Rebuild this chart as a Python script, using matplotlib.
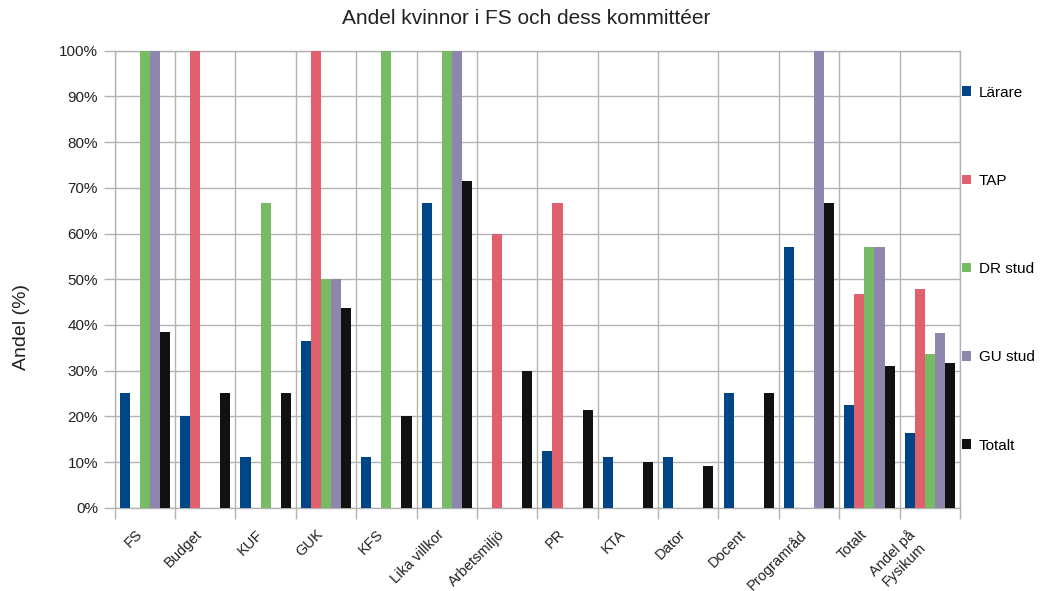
import matplotlib
matplotlib.use("Agg")
import matplotlib.pyplot as plt
from matplotlib.patches import Patch
import numpy as np

plt.rcParams['font.family'] = ['Liberation Sans', 'DejaVu Sans']

categories = ['FS', 'Budget', 'KUF', 'GUK', 'KFS', 'Lika villkor', 'Arbetsmiljö',
              'PR', 'KTA', 'Dator', 'Docent', 'Programråd', 'Totalt', 'Andel på\nFysikum']
series_names = ['Lärare', 'TAP', 'DR stud', 'GU stud', 'Totalt']

larare = [25, 20, 11.1, 36.4, 11.1, 66.7, 0, 12.5, 11.1, 11.1, 25, 57.1, 22.4, 16.3]
tap = [0, 100, 0, 100, 0, 0, 60, 66.7, 0, 0, 0, 0, 46.8, 47.8]
dr_stud = [100, 0, 66.7, 50, 100, 100, 0, 0, 0, 0, 0, 0, 57.1, 33.7]
gu_stud = [100, 0, 0, 50, 0, 100, 0, 0, 0, 0, 0, 100, 57.1, 38.2]
totalt = [38.5, 25, 25, 43.8, 20, 71.4, 30, 21.4, 10, 9.1, 25, 66.7, 31.1, 31.7]

colors = ['#004586', '#e0606e', '#77bc65', '#8e86ae', '#111111']
grid_col = '#b3b3b3'

fig = plt.figure(figsize=(10.44, 5.91), dpi=100)
ax = fig.add_axes([114.7 / 1044, 83.3 / 591, 845.3 / 1044, 457 / 591])

x = np.arange(len(categories))
w = 1 / 6
all_series = [larare, tap, dr_stud, gu_stud, totalt]
for i, vals in enumerate(all_series):
    ax.bar(x + (i - 2) * w, vals, width=w, color=colors[i], zorder=3, linewidth=0)

ax.set_xlim(-0.5, len(categories) - 0.5)
ax.set_ylim(0, 100)

ax.set_yticks(np.arange(0, 101, 10))
ax.set_yticklabels([f'{v}%' for v in range(0, 101, 10)], fontsize=11, color='#222222')
ax.set_xticks(np.arange(len(categories) + 1) - 0.5)
ax.set_xticklabels([])
ax.set_xticks(x, minor=True)
ax.set_xticklabels(categories, minor=True, rotation=45, ha='right', fontsize=10.5,
                   color='#222222', multialignment='center')
ax.tick_params(axis='x', which='minor', length=0, pad=14)
ax.tick_params(axis='both', which='major', length=8, color=grid_col, width=1)
ax.tick_params(axis='y', pad=4)

ax.grid(True, which='major', color=grid_col, linewidth=1, zorder=0)
ax.set_axisbelow(True)
for s in ax.spines.values():
    s.set_color(grid_col)
    s.set_linewidth(1)

fig.text(526 / 1044, 1 - 19 / 591, 'Andel kvinnor i FS och dess kommittéer',
         ha='center', va='center', fontsize=15, color='#222222')
fig.text(21 / 1044, 1 - 327 / 591, 'Andel (%)', rotation=90, ha='center', va='center',
         fontsize=14, color='#222222')

handles = [Patch(facecolor=c, edgecolor='none') for c in colors]
leg = fig.legend(handles, series_names, loc='center left',
                 bbox_to_anchor=(962 / 1044, 1 - 269 / 591), frameon=False,
                 fontsize=11, handlelength=0.6, handleheight=0.6, handletextpad=0.5,
                 labelspacing=4.86, borderpad=0, borderaxespad=0)

fig.savefig('out.png', dpi=100)
